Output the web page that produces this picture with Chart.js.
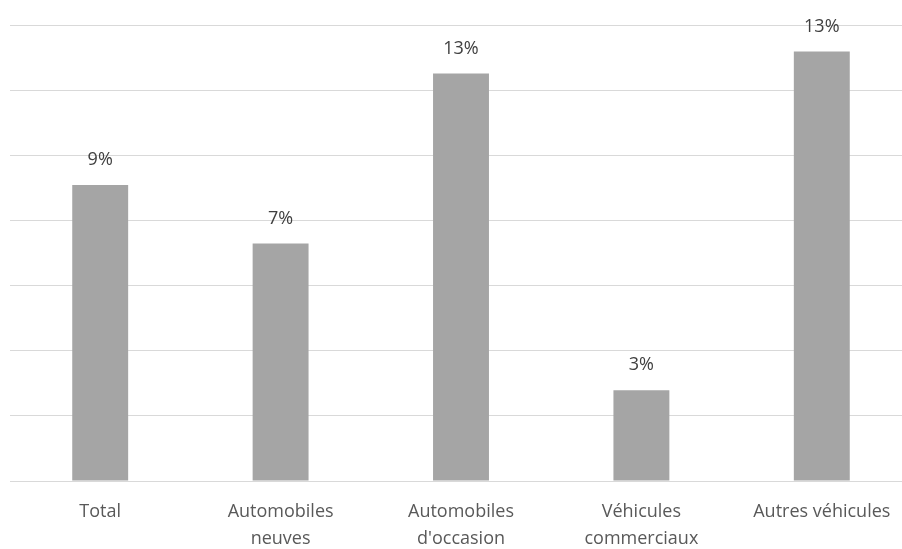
<!DOCTYPE html>
<html>
<head>
<meta charset="utf-8">
<script src="https://cdn.jsdelivr.net/npm/chart.js@4/dist/chart.umd.min.js"></script>
<style>
  html, body { margin: 0; padding: 0; background: #fff; overflow: hidden; }
  #wrap { position: relative; width: 914px; height: 561px; }
</style>
</head>
<body>
<div id="wrap"><canvas id="chart"></canvas></div>
<script>
// Catégories (étiquettes sur deux lignes) et valeurs en %
var categories = [
    ["Total"],
    ["Automobiles", "neuves"],
    ["Automobiles", "d'occasion"],
    ["Véhicules", "commerciaux"],
    ["Autres véhicules"]
];
var values = [9.09, 7.29, 12.51, 2.79, 13.19];
var yTicks = [0, 2, 4, 6, 8, 10, 12, 14];

var FONT = "'Open Sans', 'Noto Sans', sans-serif";

// Petit plugin pour écrire la valeur au-dessus de chaque barre
var valueLabels = {
    id: "valueLabels",
    afterDatasetsDraw: function (chart) {
        var ctx = chart.ctx,
            meta = chart.getDatasetMeta(0);
        ctx.save();
        ctx.font = "18px " + FONT;
        ctx.fillStyle = "#404040";
        ctx.textAlign = "center";
        ctx.textBaseline = "middle";
        meta.data.forEach(function (bar, i) {
            ctx.fillText(Math.round(values[i]) + "%", bar.x, bar.y - 25);
        });
        ctx.restore();
    }
};

new Chart(document.getElementById("chart"), {
    type: "bar",
    data: {
        labels: categories,
        datasets: [{
            data: values,
            backgroundColor: "#a5a5a5",
            borderWidth: 0,
            barPercentage: 1,
            categoryPercentage: 0.31
        }]
    },
    options: {
        responsive: true,
        maintainAspectRatio: false,
        animation: false,
        layout: { padding: { left: 10, right: 2, top: 25, bottom: 0 } },
        plugins: { legend: { display: false }, tooltip: { enabled: false } },
        scales: {
            x: {
                grid: { display: false },
                border: { display: false },
                ticks: {
                    color: "#595959",
                    font: { family: FONT, size: 18, lineHeight: 1.5 },
                    padding: 9,
                    maxRotation: 0,
                    autoSkip: false
                }
            },
            y: {
                min: yTicks[0],
                max: yTicks[yTicks.length - 1],
                afterBuildTicks: function (scale) {
                    scale.ticks = yTicks.map(function (v) { return { value: v }; });
                },
                grid: { color: "#d9d9d9", lineWidth: 1, drawTicks: false },
                border: { display: false },
                ticks: { display: false }
            }
        }
    },
    plugins: [valueLabels]
});
</script>
</body>
</html>
